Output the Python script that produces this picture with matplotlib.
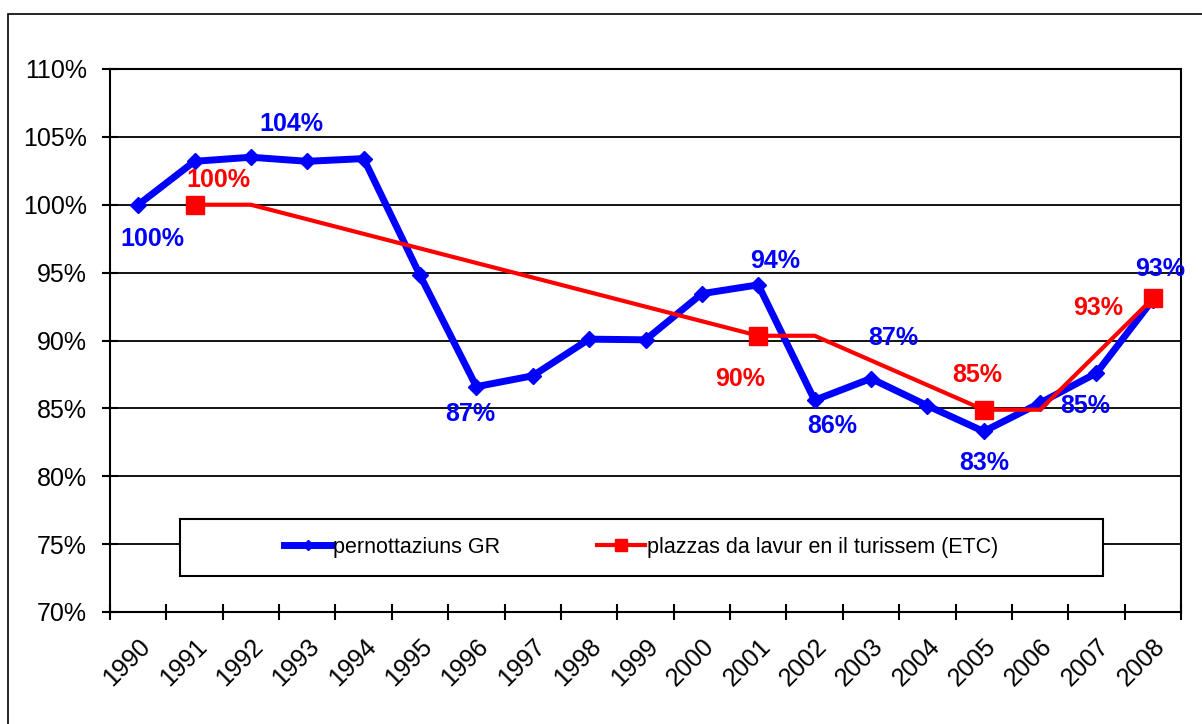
import numpy as np
import matplotlib
matplotlib.use('Agg')
import matplotlib.pyplot as plt
from matplotlib.patches import Rectangle

plt.rcParams['font.family'] = ['Liberation Sans', 'DejaVu Sans']

years = [str(y) for y in range(1990, 2009)]

# pernottaziuns GR (index 1990 = 100%)
gr_values = [100.0, 103.2, 103.5, 103.2, 103.4, 94.8, 86.6, 87.4, 90.1, 90.05,
             93.45, 94.1, 85.6, 87.2, 85.2, 83.3, 85.4, 87.6, 93.0]

# plazzas da lavur en il turissem (ETC), only some years known
etc_idx = [1, 2, 11, 12, 15, 16, 18]
etc_values = [100.0, 100.0, 90.35, 90.35, 84.9, 84.9, 93.1]
etc_marker_every = [0, 2, 4, 6]

# data labels: (point index, text, offset in pixels)
gr_labels = [(0, '100%', (14, -34)), (3, '104%', (-16, 37)), (6, '87%', (-6, -27)),
             (11, '94%', (17, 24)), (12, '86%', (18, -26)), (13, '87%', (22, 41)),
             (15, '83%', (1, -32)), (16, '85%', (45, -3)), (18, '93%', (7, 31))]
etc_labels = [(0, '100%', (24, 25)), (2, '90%', (-18, -43)),
              (4, '85%', (-6, 35)), (6, '93%', (-55, -10))]

blue = '#0000FF'
red = '#FF0000'

fig = plt.figure(figsize=(12.02, 7.24), dpi=100)
ax = fig.add_axes([110/1202, 1-612/724, (1181-110)/1202, (612-69)/724])

x = np.arange(len(years))
ax.plot(x, gr_values, color=blue, lw=5, marker='D', ms=8, zorder=3,
        label='pernottaziuns GR')
ax.plot(etc_idx, etc_values, color=red, lw=3, marker='s', ms=13,
        markevery=etc_marker_every, zorder=4,
        label='plazzas da lavur en il turissem (ETC)')

for i, t, (dx, dy) in gr_labels:
    ax.annotate(t, (x[i], gr_values[i]), xytext=(dx, dy), textcoords='offset pixels',
                ha='center', va='center', color=blue, fontsize=18, fontweight='bold')
for j, t, (dx, dy) in etc_labels:
    ax.annotate(t, (etc_idx[j], etc_values[j]), xytext=(dx, dy), textcoords='offset pixels',
                ha='center', va='center', color=red, fontsize=18, fontweight='bold')

ax.set_xlim(-0.5, len(years) - 0.5)
ax.set_ylim(70, 110)
ax.set_yticks(np.arange(70, 111, 5))
ax.set_yticklabels([f'{v}%' for v in range(70, 111, 5)], fontsize=18)
ax.yaxis.grid(True, color='black', lw=1.3)
ax.set_axisbelow(True)

ax.set_xticks(np.arange(-0.5, len(years), 1))
ax.set_xticklabels([])
ax.set_xticks(x, minor=True)
ax.set_xticklabels(years, minor=True, rotation=45, ha='right', rotation_mode='anchor',
                   fontsize=18)
ax.tick_params(axis='x', which='minor', length=0, pad=16)
ax.tick_params(axis='both', which='major', direction='inout', length=11, width=1.5)
ax.tick_params(axis='y', which='major', pad=11)
for s in ax.spines.values():
    s.set_linewidth(1.5)

leg = fig.legend(loc='center', bbox_to_anchor=(641/1202, 1-547/724), ncol=2,
                 frameon=False, fontsize=15.5, handlelength=2.2, handletextpad=0.1,
                 columnspacing=4.5, markerscale=0.7)

fig.patches.append(Rectangle((180/1202, 1-576/724), (1103-180)/1202, (576-519)/724,
                             transform=fig.transFigure, fill=True, facecolor='white',
                             edgecolor='black', lw=1.5, zorder=2))
leg.set_zorder(5)

# outer chart frame (only top and left edges fall inside the picture)
fig.patches.append(Rectangle((8/1202, -0.1), 1.2, 1-14/724+0.1, transform=fig.transFigure,
                             fill=False, edgecolor='black', lw=1.2))

fig.savefig('out.png', dpi=100)
